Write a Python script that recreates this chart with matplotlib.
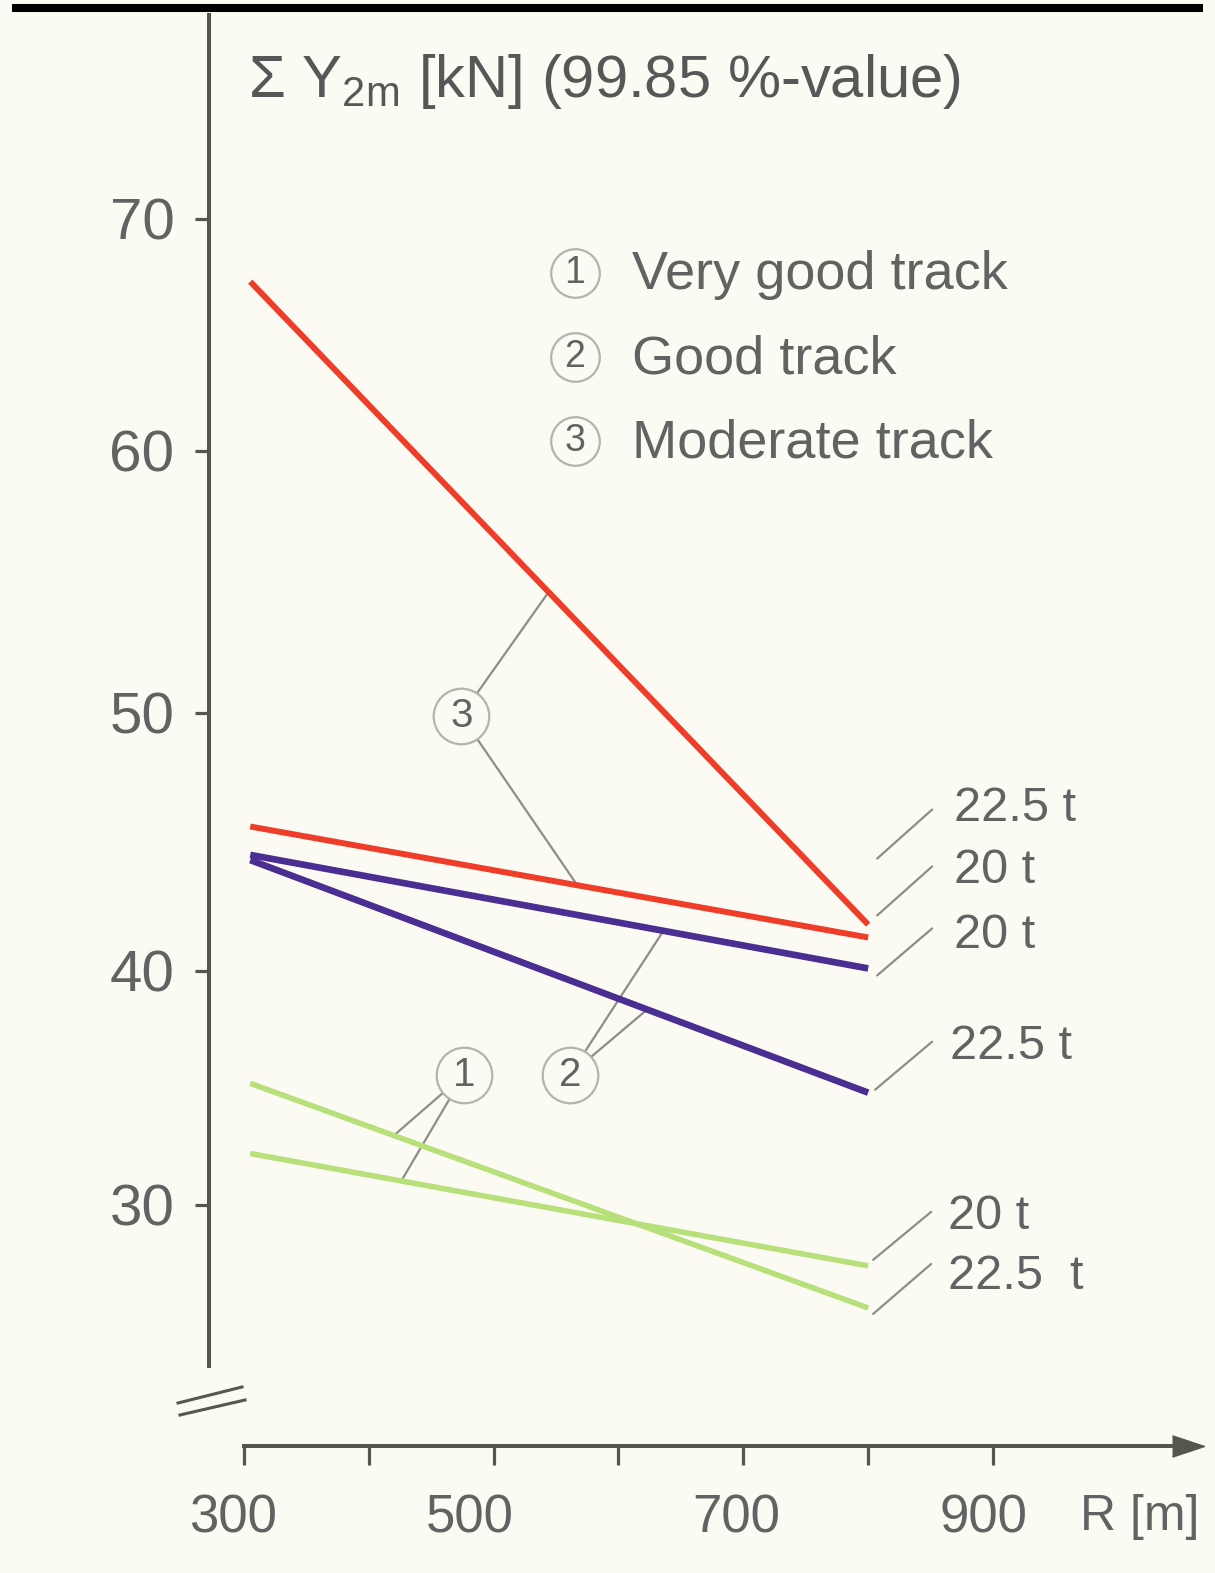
import numpy as np
import matplotlib
matplotlib.use("Agg")
import matplotlib.pyplot as plt
from matplotlib.transforms import offset_copy, ScaledTranslation

# ---------------------------------------------------------------- data
radius_m = [305, 800]                      # curve radius R [m]

moderate_225t = [67.3, 41.8]               # sum Y2m [kN], moderate track
moderate_20t = [45.6, 41.3]
good_20t = [44.5, 40.1]                    # good track
good_225t = [44.3, 34.8]
very_good_20t = [32.2, 27.4]               # very good track
very_good_225t = [35.2, 25.6]

track_names = ["Very good track", "Good track", "Moderate track"]
load_labels = ["22.5 t", "20 t", "20 t", "22.5 t", "20 t", "22.5  t"]

x_ticks = [300, 400, 500, 600, 700, 800, 900]
x_tick_labels = ["300", "", "500", "", "700", "", "900"]
y_ticks = [30, 40, 50, 60, 70]
y_tick_labels = ["30", "40", "50", "60", "70"]

# ---------------------------------------------------------------- style
W, H = 1215, 1573
BG = "#FCFBF3"
TEXT = "#626262"
TITLE = "#575757"
AXIS = "#56564F"
LEADER = "#8E8E88"
RING = "#B4B4AC"
RED = "#EE3D29"
PURPLE = "#4A2E92"
GREEN = "#B7E07B"

plt.rcParams["font.family"] = ["Liberation Sans", "DejaVu Sans"]
plt.rcParams["mathtext.fontset"] = "custom"
plt.rcParams["mathtext.rm"] = "Liberation Sans"
plt.rcParams["mathtext.it"] = "Liberation Sans"

fig = plt.figure(figsize=(W / 100, H / 100), dpi=100, facecolor=BG)
ax = fig.add_axes([0, 0, 1, 1], facecolor=BG)

# Tick spacing on the value axis is uneven, so values are mapped
# piecewise-linearly between the tick marks (heights in px from the bottom).
tick_height = np.array([368.0, 602.0, 860.0, 1122.0, 1354.0])
tick_value = np.array(y_ticks, dtype=float)


def _piecewise(x, xp, fp):
    x = np.asarray(x, dtype=float)
    s0 = (fp[1] - fp[0]) / (xp[1] - xp[0])
    s1 = (fp[-1] - fp[-2]) / (xp[-1] - xp[-2])
    return np.where(x < xp[0], fp[0] + (x - xp[0]) * s0,
                    np.where(x > xp[-1], fp[-1] + (x - xp[-1]) * s1,
                             np.interp(x, xp, fp)))


def forward(v):
    return _piecewise(v, tick_value, tick_height)


def inverse(h):
    return _piecewise(h, tick_height, tick_value)


ax.set_yscale("function", functions=(forward, inverse))
ax.set_ylim(float(inverse(0.0)), float(inverse(float(H))))
ax.set_xlim(104.53, 1077.86)

# ---------------------------------------------------------------- axes
for side in ("top", "right"):
    ax.spines[side].set_visible(False)
ax.spines["left"].set_position(("data", 272))
ax.spines["left"].set_bounds(23.1, 78.8)
ax.spines["bottom"].set_position(("data", 19.7))
ax.spines["bottom"].set_bounds(300, 1052)
for side in ("left", "bottom"):
    ax.spines[side].set_color(AXIS)
    ax.spines[side].set_linewidth(2.9)

ax.set_xticks(x_ticks)
ax.set_xticklabels(x_tick_labels)
ax.set_yticks(y_ticks)
ax.set_yticklabels(y_tick_labels)
ax.minorticks_off()
ax.tick_params(axis="x", direction="out", length=14, width=2.3, pad=20,
               labelsize=38, labelcolor=TEXT, color=AXIS)
ax.tick_params(axis="y", direction="out", length=10, width=2.3, pad=15,
               labelsize=42, labelcolor=TEXT, color=AXIS)

# the lettering under the radius axis sits a little left of each tick
x_label_shift_px = [-11, 0, -24, 0, -7, 0, -10]
for lab, dx in zip(ax.get_xticklabels(), x_label_shift_px):
    lab.set_transform(lab.get_transform()
                      + ScaledTranslation(dx / 100, 0, fig.dpi_scale_trans))

# arrow head on the radius axis
ax.plot([1056], [19.7], marker=[(-1.5, -1.0), (1.5, 0.0), (-1.5, 1.0)],
        ms=23, color=AXIS, clip_on=False, zorder=4)
ax.text(1140 / W, 1 - 1494 / H, "R [m]", transform=ax.transAxes,
        ha="center", va="top", fontsize=36, color=TEXT)

# axis break on the value axis
for (x0, y0), (x1, y1) in [((178, 1403), (242, 1387)),
                           ((180, 1415), (245, 1400))]:
    ax.plot([x0 / W, x1 / W], [1 - y0 / H, 1 - y1 / H],
            transform=ax.transAxes, color=AXIS, lw=2.2, clip_on=False)

# heavy rule along the top edge
ax.plot([12 / W, 1203 / W], [1 - 8 / H, 1 - 8 / H], transform=ax.transAxes,
        color="black", lw=5.8, solid_capstyle="butt", clip_on=False)

# title of the value axis
ax.text(248 / W, 1 - 97 / H,
        r"Σ Y$_{\mathrm{2m}}$ [kN] (99.85 %-value)",
        transform=ax.transAxes, ha="left", va="baseline",
        fontsize=43, color=TITLE)

# ---------------------------------------------------------------- series
series = [
    (moderate_225t, RED, 4.3, ((9, 66), (64, 115), (86, 116))),
    (moderate_20t, RED, 4.3, ((9, 22), (64, 71), (86, 67))),
    (good_20t, PURPLE, 4.8, ((9, -7), (64, 40), (86, 33))),
    (good_225t, PURPLE, 4.8, ((7, 3), (64, 51), (82, 46))),
    (very_good_20t, GREEN, 4.0, ((5, 6), (63, 54), (80, 49))),
    (very_good_225t, GREEN, 4.0, ((5, -6), (63, 44), (80, 31))),
]

for values, color, lw, _ in series:
    ax.plot(radius_m, values, color=color, lw=lw, solid_capstyle="butt",
            zorder=3)

# load labels with short leaders at the line ends
for (values, color, lw, offs), label in zip(series, load_labels):
    end = (radius_m[-1], values[-1])
    (ax0, ay0), (ax1, ay1), (tx, ty) = offs
    ax.annotate("", xy=end,
                xycoords=offset_copy(ax.transData, fig=fig, x=ax0, y=ay0,
                                     units="dots"),
                xytext=end,
                textcoords=offset_copy(ax.transData, fig=fig, x=ax1, y=ay1,
                                       units="dots"),
                arrowprops=dict(arrowstyle="-", color=LEADER, lw=1.6,
                                shrinkA=0, shrinkB=0))
    ax.annotate(label, xy=end, xytext=(tx, ty), textcoords="offset pixels",
                ha="left", va="center", fontsize=35, color=TEXT)


# ---------------------------------------------------------------- callouts
def point_on(values, r):
    p0 = ax.transData.transform((radius_m[0], values[0]))
    p1 = ax.transData.transform((radius_m[-1], values[-1]))
    t = (r - radius_m[0]) / (radius_m[-1] - radius_m[0])
    return ax.transData.inverted().transform(p0 + t * (p1 - p0))


callouts = [
    ("3", (474, 49.9), [(moderate_225t, 544), (moderate_20t, 567)]),
    ("2", (561, 35.56), [(good_20t, 636), (good_225t, 623)]),
    ("1", (476, 35.56), [(very_good_225t, 420), (very_good_20t, 426)]),
]
for num, (cx, cy), targets in callouts:
    for values, r in targets:
        ax.annotate("", xy=tuple(point_on(values, r)), xytext=(cx, cy),
                    arrowprops=dict(arrowstyle="-", color=LEADER, lw=1.6,
                                    shrinkA=20, shrinkB=0), zorder=2)
    ax.plot([cx], [cy], "o", ms=40, mfc=BG, mec=RING, mew=1.6, zorder=5)
    ax.text(cx, cy, num, ha="center", va="center", fontsize=29,
            color=TEXT, zorder=6)

# ---------------------------------------------------------------- legend
legend_rows = [273, 357, 441]
for i, (name, row) in enumerate(zip(track_names, legend_rows)):
    ax.plot([575 / W], [1 - row / H], "o", ms=35, mfc=BG, mec=RING,
            mew=1.6, transform=ax.transAxes, clip_on=False, zorder=5)
    ax.text(575 / W, 1 - row / H, str(i + 1), transform=ax.transAxes,
            ha="center", va="center", fontsize=27, color=TEXT, zorder=6)
    ax.text(632 / W, 1 - (row + 16) / H, name, transform=ax.transAxes,
            ha="left", va="baseline", fontsize=39, color=TEXT)

fig.savefig("out.png", dpi=100, facecolor=BG)
